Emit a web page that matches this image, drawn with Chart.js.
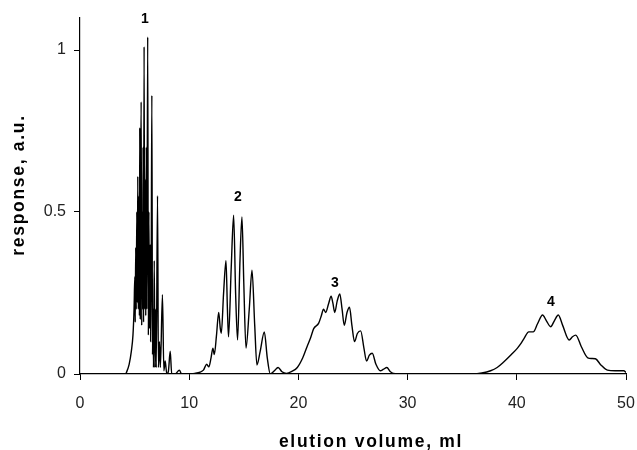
<!DOCTYPE html>
<html>
<head>
<meta charset="utf-8">
<script src="https://cdn.jsdelivr.net/npm/chart.js@4.4.1/dist/chart.umd.min.js"></script>
<style>
  html, body { margin: 0; padding: 0; background: #fff; }
  canvas { display: block; }
</style>
</head>
<body>
<canvas id="chart" width="637" height="450"></canvas>
<script>
// elution volume (ml) and detector response (a.u.)
const volume = [
  4.2, 4.5, 4.7, 4.85, 4.95, 5.02, 5.06, 5.1, 5.15, 5.2, 5.25, 5.29, 5.34, 5.4, 5.44, 5.47,
  5.52, 5.56, 5.6, 5.65, 5.7, 5.74, 5.78, 5.82, 5.87, 5.92, 5.97, 6.02, 6.07, 6.12, 6.2, 6.26,
  6.31, 6.36, 6.42, 6.47, 6.52, 6.58, 6.64, 6.69, 6.73, 6.8, 6.86, 6.92, 6.98, 7.1, 7.18, 7.28,
  7.36, 7.55, 7.68, 7.8, 7.95, 8.1, 8.26, 8.4, 8.7, 9.1, 9.3,
  10.0, 10.5, 11.0, 11.3, 11.6, 11.8, 12.0, 12.17, 12.3, 12.5, 12.7, 12.85, 12.94, 13.15, 13.37,
  13.5, 13.6, 13.85, 14.07, 14.25, 14.43, 14.65, 14.83, 15.0, 15.2, 15.5, 15.75, 16.0, 16.2,
  16.5, 16.88, 17.15, 17.43, 17.8, 18.14, 18.5, 18.9,
  19.4, 19.9, 20.4, 20.8, 21.1, 21.4, 21.86, 22.1, 22.3, 22.5, 22.75, 23.0, 23.15, 23.33, 23.55,
  23.79, 24.0, 24.2, 24.45, 24.68, 24.9, 25.14, 25.4, 25.7, 26.0, 26.24, 26.5, 26.76, 27.1,
  27.5, 27.8, 28.1, 28.4, 28.7, 29.5,
  36.0, 36.8, 37.6, 38.2, 38.8, 39.5, 40.06, 40.4, 40.67, 41.1, 41.5, 41.9, 42.36, 42.7, 43.1,
  43.45, 43.8, 44.2, 44.8, 45.1, 45.4, 45.9, 46.5, 46.85, 47.2, 47.7, 48.3, 49.0, 49.8, 50.0
];
const response = [
  0, 0.03, 0.07, 0.12, 0.2, 0.3, 0.16, 0.39, 0.2, 0.5, 0.22, 0.61, 0.2, 0.55, 0.18, 0.76,
  0.17, 0.6, 0.84, 0.15, 0.5, 0.2, 0.7, 0.16, 1.01, 0.2, 0.6, 0.18, 0.7, 0.2, 1.04, 0.12,
  0.5, 0.14, 0.4, 0.1, 0.3, 0.86, 0.06, 0.2, 0.02, 0.35, 0.02, 0.2, 0.02, 0.55, 0.02, 0.1,
  0.02, 0.245, 0.01, 0.04, 0, 0.01, 0.07, 0, 0, 0.012, 0,
  0, 0.002, 0.006, 0.012, 0.03, 0.022, 0.05, 0.08, 0.06, 0.12, 0.19, 0.14, 0.126, 0.25, 0.35,
  0.2, 0.115, 0.33, 0.49, 0.25, 0.105, 0.35, 0.485, 0.28, 0.08, 0.2, 0.32, 0.15, 0.028,
  0.07, 0.13, 0.05, 0.0, 0.01, 0.02, 0.007, 0.002,
  0.008, 0.02, 0.05, 0.085, 0.11, 0.14, 0.157, 0.18, 0.2, 0.19, 0.215, 0.24, 0.22, 0.19, 0.225,
  0.247, 0.2, 0.15, 0.19, 0.206, 0.15, 0.1, 0.125, 0.133, 0.08, 0.04, 0.058, 0.064, 0.03,
  0.01, 0.015, 0.02, 0.008, 0.002, 0,
  0, 0.003, 0.01, 0.02, 0.037, 0.06, 0.08, 0.095, 0.11, 0.13, 0.13, 0.155, 0.182, 0.165, 0.146,
  0.165, 0.182, 0.15, 0.105, 0.115, 0.12, 0.085, 0.05, 0.048, 0.047, 0.028, 0.012, 0.01, 0.01, 0.005
];

const xTicks = [0, 10, 20, 30, 40, 50];
const yTicks = [0, 0.5, 1];

// peak numbers and where they sit (data units)
const peakNames = ['1', '2', '3', '4'];
const peakX = [5.95, 14.47, 23.35, 43.13];
const peakY = [1.095, 0.546, 0.281, 0.222];

const xTitle = 'elution volume, ml';
const yTitle = 'response, a.u.';

const font = "'Liberation Sans', Arial, Helvetica, sans-serif";

const labelsPlugin = {
  id: 'labelsPlugin',
  afterDatasetsDraw(chart) {
    const ctx = chart.ctx;
    const xs = chart.scales.x, ys = chart.scales.y;
    ctx.save();
    ctx.font = 'bold 14px ' + font;
    ctx.fillStyle = '#000';
    ctx.textAlign = 'center';
    ctx.textBaseline = 'middle';
    peakNames.forEach((name, i) => {
      ctx.fillText(name, xs.getPixelForValue(peakX[i]), ys.getPixelForValue(peakY[i]));
    });
    // axis titles: wide-set bold type as in the original figure
    ctx.font = 'bold 17.5px ' + font;
    ctx.letterSpacing = '1.7px';
    ctx.textBaseline = 'alphabetic';
    ctx.fillText(xTitle, 371, 447);
    ctx.translate(19, 185);
    ctx.rotate(-Math.PI / 2);
    ctx.textBaseline = 'middle';
    ctx.fillText(yTitle, 0, 0);
    ctx.restore();
  }
};

const points = volume.map((v, i) => ({ x: v, y: response[i] }));

new Chart(document.getElementById('chart'), {
  type: 'line',
  data: {
    datasets: [{
      data: points,
      borderColor: '#000',
      borderWidth: 1.4,
      pointRadius: 0,
      fill: false,
      cubicInterpolationMode: 'monotone'
    }]
  },
  options: {
    responsive: false,
    animation: false,
    layout: { padding: { top: 17, right: 11, left: 0, bottom: 0 } },
    plugins: { legend: { display: false }, tooltip: { enabled: false } },
    scales: {
      x: {
        type: 'linear',
        min: 0,
        max: 50,
        afterFit(scale) {
          scale.height = 76;
          scale.paddingLeft = 0;
          scale.paddingRight = 0;
        },
        afterBuildTicks(scale) { scale.ticks = xTicks.map(v => ({ value: v })); },
        ticks: { color: '#222', font: { family: font, size: 16 }, padding: 14, maxRotation: 0 },
        grid: { drawOnChartArea: false, drawTicks: true, tickLength: 6, color: '#000' },
        border: { color: '#000', width: 1.2 }
      },
      y: {
        min: 0,
        max: 1.1,
        afterFit(scale) { scale.width = 80; },
        afterBuildTicks(scale) { scale.ticks = yTicks.map(v => ({ value: v })); },
        ticks: { color: '#222', font: { family: font, size: 16 }, padding: 8, callback: v => String(v) },
        grid: { drawOnChartArea: false, drawTicks: true, tickLength: 6, color: '#000' },
        border: { color: '#000', width: 1.2 }
      }
    }
  },
  plugins: [labelsPlugin]
});
</script>
</body>
</html>
